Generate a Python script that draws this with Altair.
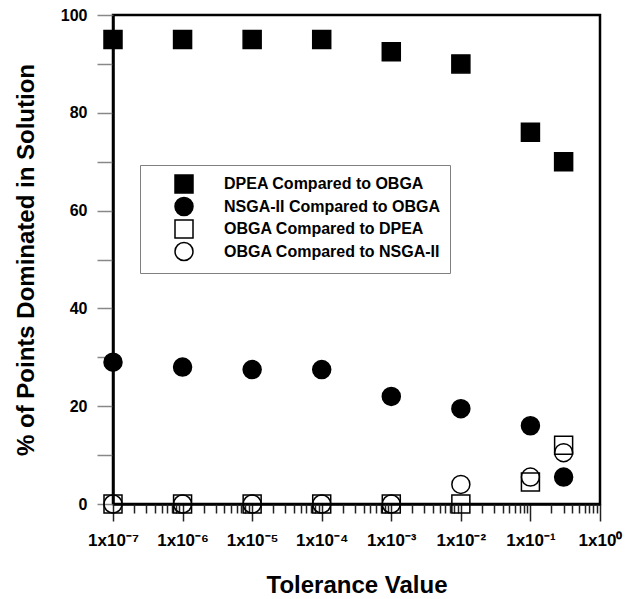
import altair as alt
import pandas as pd

# Tolerance values at which the algorithms were compared
tolerance = [1e-7, 1e-6, 1e-5, 1e-4, 1e-3, 1e-2, 1e-1, 3e-1]

# % of points dominated, one list per comparison
dpea_vs_obga = [95, 95, 95, 95, 92.5, 90, 76, 70]
nsga_vs_obga = [29, 28, 27.5, 27.5, 22, 19.5, 16, 5.5]
obga_vs_dpea = [0, 0, 0, 0, 0, 0, 4.5, 12]
obga_vs_nsga = [0, 0, 0, 0, 0, 4, 5.5, 10.5]

series_names = [
    "DPEA Compared to OBGA",
    "NSGA-II Compared to OBGA",
    "OBGA Compared to DPEA",
    "OBGA Compared to NSGA-II",
]
series_shapes = ["square", "circle", "square", "circle"]
series_fills = ["black", "black", "transparent", "transparent"]
series_strokes = ["black", "black", "black", "black"]

# Decade ticks and their labels
decade_ticks = [1e-7, 1e-6, 1e-5, 1e-4, 1e-3, 1e-2, 1e-1, 1e0]
decade_labels = ["1x10⁻⁷", "1x10⁻⁶", "1x10⁻⁵", "1x10⁻⁴",
                 "1x10⁻³", "1x10⁻²", "1x10⁻¹", "1x10⁰"]
y_ticks = list(range(0, 101, 10))

rows = []
for name, vals in zip(series_names,
                      [dpea_vs_obga, nsga_vs_obga, obga_vs_dpea, obga_vs_nsga]):
    for t, v in zip(tolerance, vals):
        rows.append({"tol": t, "pct": v, "series": name})
df = pd.DataFrame(rows)

# minor log ticks between decades
minor_ticks = [m * 10.0 ** k for k in range(-7, 0) for m in range(2, 10)]

FONT = "Liberation Sans"
label_js = "[" + ",".join("'%s'" % s for s in decade_labels) + "]"

x_scale = alt.Scale(type="log", domain=[1e-7, 1])
y_scale = alt.Scale(domain=[0, 100], nice=False, zero=False)

legend = alt.Legend(
    title=None, orient="none", legendX=27, legendY=150,
    fillColor="white", strokeColor="#808080",
    padding=9, symbolOffset=25, labelOffset=30,
    rowPadding=-1.5, symbolSize=324, symbolStrokeWidth=1.5,
    labelFont=FONT, labelFontSize=16,
    labelFontWeight="bold", labelColor="black",
    labelLimit=400,
)

points = alt.Chart(df).mark_point(
    filled=True, strokeWidth=1.5, opacity=1, size=324
).encode(
    x=alt.X("tol:Q", scale=x_scale,
            axis=alt.Axis(
                orient="bottom",
                values=decade_ticks,
                labelExpr=label_js + "[round(log(datum.value)/LN10)+7]",
                title="Tolerance Value",
                titleFontSize=24, titleFont=FONT, titleFontWeight="bold",
                titleX=243.5, titleY=88, titleBaseline="alphabetic",
                titleAnchor="middle",
                labelFontSize=17, labelFont=FONT, labelFontWeight="bold",
                labelPadding=11, labelColor="black", labelFlush=False,
                tickSize=17, tickColor="#222", tickWidth=1.5,
                domainColor="black", domainWidth=2.5, grid=False,
            )),
    y=alt.Y("pct:Q", scale=y_scale,
            axis=alt.Axis(
                values=y_ticks,
                labelExpr="datum.value % 20 == 0 ? datum.value : ''",
                title="% of Points Dominated in Solution",
                titleFontSize=24, titleFont=FONT, titleFontWeight="bold",
                titleX=-80, titleY=244.5, titleAngle=-90,
                titleBaseline="alphabetic", titleAlign="center",
                labelFontSize=16, labelFont=FONT, labelFontWeight="bold",
                labelPadding=10, labelColor="black",
                tickSize=16, tickColor="#888", tickWidth=1.5,
                domainColor="black", domainWidth=2.5, grid=False,
            )),
    shape=alt.Shape("series:N",
                    scale=alt.Scale(domain=series_names, range=series_shapes),
                    legend=legend),
    fill=alt.Fill("series:N",
                  scale=alt.Scale(domain=series_names, range=series_fills),
                  legend=legend),
    stroke=alt.Stroke("series:N",
                      scale=alt.Scale(domain=series_names, range=series_strokes),
                      legend=legend),
)

# invisible layer carrying the minor log ticks on a second bottom axis
minor = alt.Chart(df).mark_point(opacity=0, size=1).encode(
    x=alt.X("tol:Q", scale=x_scale,
            axis=alt.Axis(orient="bottom", values=minor_ticks, labels=False,
                          title=None, tickSize=9, tickColor="#222",
                          tickWidth=1.5, domain=False, grid=False)),
)

chart = alt.layer(points, minor).resolve_axis(x="independent").properties(
    width=487, height=489,
    padding={"left": 113, "top": 15, "right": 27, "bottom": 95},
    autosize=alt.AutoSizeParams(type="none"),
    background="white",
).configure_view(stroke="black", strokeWidth=2.5)

chart.save("out.html", embed_options={"renderer": "svg", "actions": False})
